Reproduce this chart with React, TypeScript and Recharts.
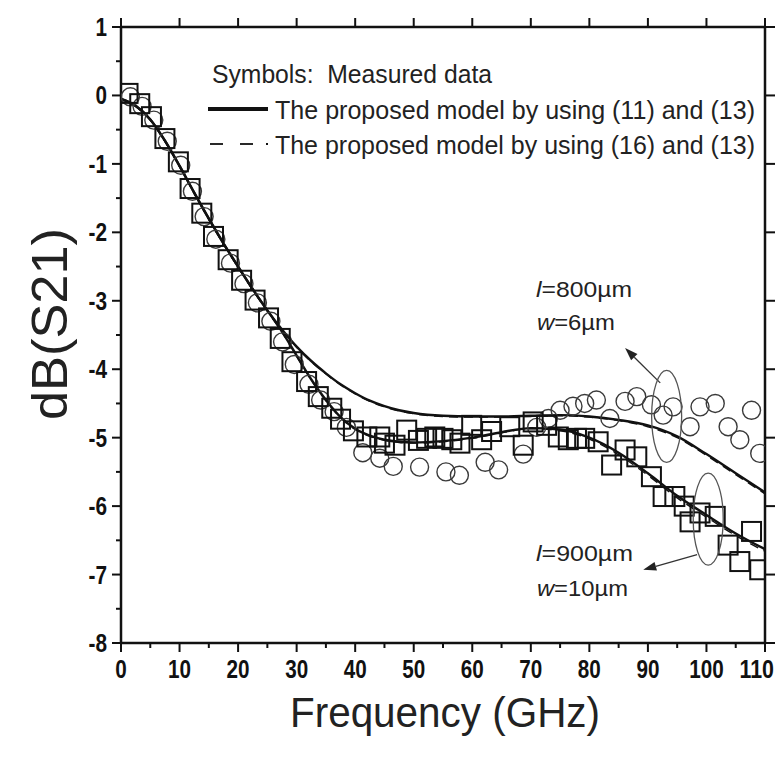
import React from 'react';
import {
  ComposedChart,
  XAxis,
  YAxis,
  Scatter,
  Line,
  ReferenceDot,
  ReferenceLine,
  Legend,
} from 'recharts';

// ---- measured data: l=900um, w=10um (squares)
const squareFreq = [1.2, 3.2, 5.2, 7.5, 9.8, 11.8, 13.8, 15.8, 18.3, 20.6, 22.9, 25.2, 27.2, 29.2, 31.7, 33.7, 36, 37.5, 39.7, 42, 44.2, 45, 46.8, 48.8, 50.8, 52.2, 53.6, 55, 56.5, 57.9, 59.9, 61.6, 63.3, 66.4, 68.7, 70.4, 72.7, 74.7, 76.4, 77.8, 79.2, 81.5, 83.8, 86.1, 88.1, 90.6, 92.6, 94.6, 96.2, 97.2, 98.9, 101.5, 103.7, 105.7, 107.7, 109.1];
const squareDb = [0.03, -0.12, -0.31, -0.63, -0.97, -1.36, -1.72, -2.06, -2.4, -2.7, -2.99, -3.25, -3.55, -3.89, -4.18, -4.4, -4.57, -4.73, -4.9, -4.99, -4.99, -5.08, -5.11, -4.89, -5.04, -5.01, -4.99, -5.01, -5.03, -5.08, -4.82, -5.03, -4.91, -4.84, -5.11, -4.77, -4.82, -4.99, -5.03, -5.01, -5.01, -5.06, -5.4, -5.18, -5.28, -5.57, -5.86, -5.86, -6.0, -6.23, -6.1, -6.15, -6.57, -6.81, -6.37, -6.93];

// ---- measured data: l=800um, w=6um (circles)
const circleFreq = [1.6, 3.6, 5.6, 7.9, 10.2, 12.2, 14.2, 16.2, 18.7, 21, 23.3, 25.6, 27.6, 29.6, 32.1, 34.1, 36.4, 38.5, 41.3, 44.2, 46.5, 51, 55.5, 57.8, 62.2, 64.5, 68.7, 71, 73, 75, 77.2, 79.2, 81.2, 83.5, 86.1, 88.1, 90.6, 92.6, 94.3, 97.2, 98.9, 101.5, 103.7, 105.7, 107.7, 109.1];
const circleDb = [-0.02, -0.16, -0.36, -0.67, -1.02, -1.4, -1.77, -2.1, -2.45, -2.75, -3.03, -3.3, -3.6, -3.93, -4.22, -4.45, -4.62, -4.85, -5.22, -5.3, -5.42, -5.43, -5.5, -5.55, -5.36, -5.47, -5.24, -4.85, -4.72, -4.6, -4.54, -4.5, -4.45, -4.72, -4.47, -4.4, -4.52, -4.67, -4.55, -4.84, -4.55, -4.5, -4.84, -5.03, -4.6, -5.23];

// ---- model curves
const modelFreq = [0, 2.5, 5, 7.5, 10, 12.5, 15, 17.5, 20, 22.5, 25, 27.5, 30, 32.5, 35, 37.5, 40, 42.5, 45, 47.5, 50, 55, 60, 65, 70, 75, 80, 85, 90, 95, 100, 105, 110];
const model800Solid = [-0.05, -0.15, -0.35, -0.66, -1.03, -1.42, -1.8, -2.16, -2.5, -2.83, -3.14, -3.42, -3.67, -3.88, -4.06, -4.22, -4.35, -4.46, -4.54, -4.6, -4.64, -4.68, -4.69, -4.69, -4.68, -4.67, -4.69, -4.74, -4.82, -4.98, -5.24, -5.52, -5.8];
const model800Dashed = [-0.05, -0.16, -0.36, -0.67, -1.04, -1.43, -1.81, -2.17, -2.51, -2.84, -3.15, -3.43, -3.68, -3.89, -4.07, -4.23, -4.36, -4.47, -4.55, -4.61, -4.65, -4.69, -4.7, -4.7, -4.69, -4.68, -4.7, -4.75, -4.84, -5.0, -5.26, -5.54, -5.82];
const model900Solid = [-0.05, -0.15, -0.35, -0.66, -1.03, -1.42, -1.8, -2.16, -2.5, -2.83, -3.14, -3.45, -3.8, -4.15, -4.45, -4.7, -4.87, -4.97, -5.03, -5.06, -5.07, -5.05, -5.0, -4.92, -4.86, -4.88, -5.0, -5.22, -5.52, -5.85, -6.13, -6.4, -6.63];
const model900Dashed = [-0.05, -0.16, -0.36, -0.67, -1.04, -1.43, -1.81, -2.17, -2.51, -2.84, -3.15, -3.46, -3.81, -4.16, -4.46, -4.71, -4.88, -4.98, -5.04, -5.07, -5.08, -5.06, -5.01, -4.93, -4.87, -4.9, -5.02, -5.25, -5.55, -5.88, -6.16, -6.43, -6.66];

// ---- ticks
const xMajorTicks = [0, 10, 20, 30, 40, 50, 60, 70, 80, 90, 100, 110];
const xAllTicks = [0, 5, 10, 15, 20, 25, 30, 35, 40, 45, 50, 55, 60, 65, 70, 75, 80, 85, 90, 95, 100, 105, 110];
const yMajorTicks = [1, 0, -1, -2, -3, -4, -5, -6, -7, -8];
const yAllTicks = [1, 0.5, 0, -0.5, -1, -1.5, -2, -2.5, -3, -3.5, -4, -4.5, -5, -5.5, -6, -6.5, -7, -7.5, -8];

const zip = (fs: number[], vs: number[]) => fs.map((f, i) => ({ f, v: vs[i] }));
const squares = zip(squareFreq, squareDb);
const circles = zip(circleFreq, circleDb);
const m800s = zip(modelFreq, model800Solid);
const m800d = zip(modelFreq, model800Dashed);
const m900s = zip(modelFreq, model900Solid);
const m900d = zip(modelFreq, model900Dashed);

const TICK_FONT = "'Liberation Sans', Arial, sans-serif";
const TEXT_FONT = "'Liberation Sans', Arial, sans-serif";
const TITLE_FONT = "'Liberation Sans', Arial, sans-serif";
const INK = '#111';

const isMajorX = (v: number) => xMajorTicks.indexOf(v) >= 0;
const isMajorY = (v: number) => yMajorTicks.indexOf(v) >= 0;
const labelLen = (s: string) => s.replace('-', '').length * 11.5 + (s.indexOf('-') >= 0 ? 7 : 0);

const TickText = ({ x, y, anchor, s }: { x: number; y: number; anchor: string; s: string }) => (
  <text
    x={x}
    y={y}
    textAnchor={anchor as any}
    dominantBaseline="central"
    fontSize={26}
    fontWeight="bold"
    fontFamily={TICK_FONT}
    fill={INK}
    textLength={labelLen(s)}
    lengthAdjust="spacingAndGlyphs"
  >
    {s}
  </text>
);

const BottomTick = (p: any) => {
  const v = p.payload.value;
  const major = isMajorX(v);
  const last = v === xMajorTicks[xMajorTicks.length - 1];
  return (
    <g>
      <line x1={p.x} x2={p.x} y1={p.y} y2={p.y + (major ? 9 : 5)} stroke={INK} strokeWidth={2} />
      {major && (last
        ? <TickText x={p.x + 9} y={p.y + 26} anchor="end" s={String(v)} />
        : <TickText x={p.x} y={p.y + 26} anchor="middle" s={String(v)} />)}
    </g>
  );
};

const TopTick = (p: any) => (
  <line x1={p.x} x2={p.x} y1={p.y} y2={p.y - 9} stroke={INK} strokeWidth={2} />
);

const LeftTick = (p: any) => {
  const v = p.payload.value;
  const major = isMajorY(v);
  return (
    <g>
      <line x1={p.x} x2={p.x - (major ? 9 : 5)} y1={p.y} y2={p.y} stroke={INK} strokeWidth={2} />
      {major && <TickText x={p.x - 14} y={p.y} anchor="end" s={String(v)} />}
    </g>
  );
};

const RightTick = (p: any) => (
  <line x1={p.x} x2={p.x + 10} y1={p.y} y2={p.y} stroke={INK} strokeWidth={2} />
);

const SquareShape = (p: any) => (
  <rect x={p.cx - 9.5} y={p.cy - 9.5} width={19} height={19} fill="none" stroke={INK} strokeWidth={2} />
);
const CircleShape = (p: any) => (
  <circle cx={p.cx} cy={p.cy} r={9} fill="none" stroke="#3a3a3a" strokeWidth={1.4} />
);

const EllipseShape = (p: any) => (
  <ellipse cx={p.cx} cy={p.cy} rx={15} ry={46} fill="none" stroke="#555" strokeWidth={1.3} />
);

const ArrowShape = (p: any) => {
  const { x1, y1, x2, y2 } = p;
  const ang = Math.atan2(y2 - y1, x2 - x1);
  const L = 13;
  const W = 4.5;
  const bx = x2 - L * Math.cos(ang);
  const by = y2 - L * Math.sin(ang);
  const nx = -Math.sin(ang);
  const ny = Math.cos(ang);
  return (
    <g>
      <line x1={x1} y1={y1} x2={bx} y2={by} stroke="#333" strokeWidth={1.3} />
      <polygon points={`${x2},${y2} ${bx + nx * W},${by + ny * W} ${bx - nx * W},${by - ny * W}`} fill="#222" />
    </g>
  );
};

const makeLabel = (lead: string, rest: string, width: number) => (p: any) => (
  <text x={p.cx} y={p.cy} dominantBaseline="central" fontSize={22} fontFamily={TEXT_FONT} fill="#222" textLength={width} lengthAdjust="spacingAndGlyphs">
    <tspan fontStyle="italic">{lead}</tspan>
    <tspan>{rest}</tspan>
  </text>
);

const LegendBox = () => (
  <svg width={570} height={110} style={{ overflow: 'visible' }}>
    <text x={9} y={21} dominantBaseline="central" fontSize={26} fontFamily={TEXT_FONT} fill="#222" textLength={280} lengthAdjust="spacingAndGlyphs" style={{ whiteSpace: 'pre' }}>
      {'Symbols:  Measured data'}
    </text>
    <line x1={5} x2={65} y1={56} y2={56} stroke={INK} strokeWidth={4} />
    <text x={72} y={57} dominantBaseline="central" fontSize={26} fontFamily={TEXT_FONT} fill="#222" textLength={480} lengthAdjust="spacingAndGlyphs">
      The proposed model by using (11) and (13)
    </text>
    <line x1={7} x2={20} y1={91} y2={91} stroke={INK} strokeWidth={1.8} />
    <line x1={37} x2={50} y1={91} y2={91} stroke={INK} strokeWidth={1.8} />
    <line x1={63} x2={65} y1={91} y2={91} stroke={INK} strokeWidth={1.8} />
    <text x={72} y={92} dominantBaseline="central" fontSize={26} fontFamily={TEXT_FONT} fill="#222" textLength={480} lengthAdjust="spacingAndGlyphs">
      The proposed model by using (16) and (13)
    </text>
  </svg>
);

export default function App() {
  return (
    <ComposedChart width={775} height={745} margin={{ top: 9, right: 6, bottom: 0, left: 0 }}>
      <XAxis
        xAxisId="bottom"
        dataKey="f"
        type="number"
        domain={[0, 110]}
        ticks={xAllTicks}
        interval={0}
        height={110}
        tickSize={0}
        tickMargin={0}
        tickLine={false}
        tick={BottomTick}
        axisLine={{ stroke: INK, strokeWidth: 2.5 }}
        allowDataOverflow
        label={{
          content: () => (
            <text x={437} y={704} textAnchor="middle" dominantBaseline="central" fontSize={42} fontFamily={TITLE_FONT} fill="#222" textLength={310} lengthAdjust="spacingAndGlyphs">
              Frequency (GHz)
            </text>
          ),
        }}
      />
      <XAxis
        xAxisId="top"
        orientation="top"
        dataKey="f"
        type="number"
        domain={[0, 110]}
        ticks={xMajorTicks}
        interval={0}
        height={10}
        tickSize={0}
        tickMargin={0}
        tickLine={false}
        tick={TopTick}
        axisLine={{ stroke: INK, strokeWidth: 2.5 }}
        allowDataOverflow
      />
      <YAxis
        yAxisId="left"
        type="number"
        domain={[-8, 1]}
        ticks={yAllTicks}
        interval={0}
        width={113}
        tickSize={0}
        tickMargin={0}
        tickLine={false}
        tick={LeftTick}
        axisLine={{ stroke: INK, strokeWidth: 2.5 }}
        allowDataOverflow
        label={{
          content: () => (
            <text x={42} y={316} textAnchor="middle" dominantBaseline="central" fontSize={50} fontFamily={TITLE_FONT} fill="#222" transform="rotate(-90 42 316)" textLength={192} lengthAdjust="spacingAndGlyphs">
              dB(S21)
            </text>
          ),
        }}
      />
      <YAxis
        yAxisId="right"
        orientation="right"
        type="number"
        domain={[-8, 1]}
        ticks={yMajorTicks}
        interval={0}
        width={12}
        tickSize={0}
        tickMargin={0}
        tickLine={false}
        tick={RightTick}
        axisLine={{ stroke: INK, strokeWidth: 2.5 }}
        allowDataOverflow
      />

      <Scatter xAxisId="bottom" yAxisId="left" data={circles} dataKey="v" shape={CircleShape} isAnimationActive={false} legendType="none" />
      <Scatter xAxisId="bottom" yAxisId="left" data={squares} dataKey="v" shape={SquareShape} isAnimationActive={false} legendType="none" />

      <Line xAxisId="bottom" yAxisId="left" data={m800d} dataKey="v" type="monotone" stroke={INK} strokeWidth={1.4} strokeDasharray="9 6" dot={false} isAnimationActive={false} legendType="none" />
      <Line xAxisId="bottom" yAxisId="left" data={m900d} dataKey="v" type="monotone" stroke={INK} strokeWidth={1.4} strokeDasharray="9 6" dot={false} isAnimationActive={false} legendType="none" />
      <Line xAxisId="bottom" yAxisId="left" data={m800s} dataKey="v" type="monotone" stroke={INK} strokeWidth={2.4} dot={false} isAnimationActive={false} legendType="none" />
      <Line xAxisId="bottom" yAxisId="left" data={m900s} dataKey="v" type="monotone" stroke={INK} strokeWidth={2.4} dot={false} isAnimationActive={false} legendType="none" />

      <ReferenceDot xAxisId="bottom" yAxisId="left" x={93.2} y={-4.69} shape={EllipseShape} />
      <ReferenceDot xAxisId="bottom" yAxisId="left" x={100.3} y={-6.19} shape={EllipseShape} />
      <ReferenceLine xAxisId="bottom" yAxisId="left" segment={[{ x: 92.1, y: -4.2 }, { x: 86.1, y: -3.69 }]} shape={ArrowShape} />
      <ReferenceLine xAxisId="bottom" yAxisId="left" segment={[{ x: 98.4, y: -6.71 }, { x: 89.2, y: -6.93 }]} shape={ArrowShape} />

      <ReferenceDot xAxisId="bottom" yAxisId="left" x={70.9} y={-2.83} shape={makeLabel('l', '=800µm', 96)} />
      <ReferenceDot xAxisId="bottom" yAxisId="left" x={71.05} y={-3.31} shape={makeLabel('w', '=6µm', 78)} />
      <ReferenceDot xAxisId="bottom" yAxisId="left" x={70.9} y={-6.69} shape={makeLabel('l', '=900µm', 97)} />
      <ReferenceDot xAxisId="bottom" yAxisId="left" x={71.05} y={-7.2} shape={makeLabel('w', '=10µm', 91)} />

      <Legend
        layout="vertical"
        align="center"
        verticalAlign="middle"
        wrapperStyle={{ left: 195, top: 45, width: 570, height: 110 }}
        content={() => <LegendBox />}
      />
    </ComposedChart>
  );
}
